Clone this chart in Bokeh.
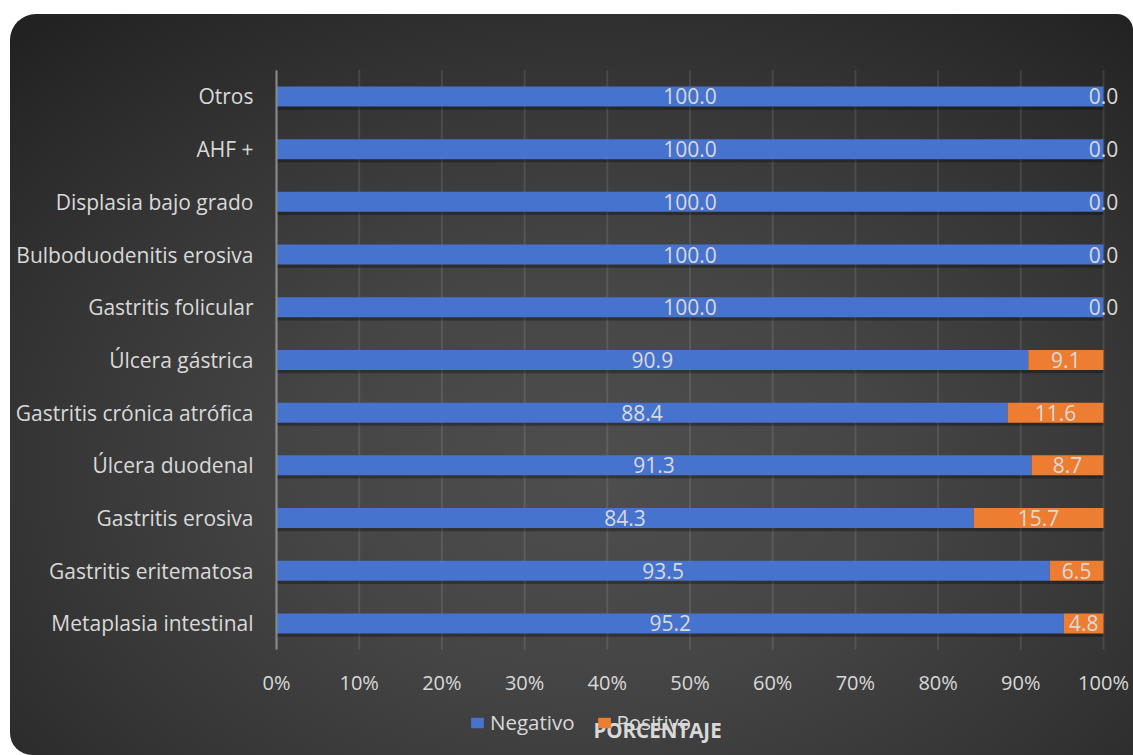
from bokeh.plotting import figure
from bokeh.models import (ColumnDataSource, Range1d, FixedTicker,
                          PrintfTickFormatter, Legend, LegendItem, Label)
from bokeh.core.properties import value
from bokeh.embed import file_html
from bokeh.resources import INLINE

# ---- data (bottom to top) ----
categories = ["Metaplasia intestinal", "Gastritis eritematosa", "Gastritis erosiva",
              "Úlcera duodenal", "Gastritis crónica atrófica", "Úlcera gástrica",
              "Gastritis folicular", "Bulboduodenitis erosiva", "Displasia bajo grado",
              "AHF +", "Otros"]
negativo = [95.2, 93.5, 84.3, 91.3, 88.4, 90.9, 100.0, 100.0, 100.0, 100.0, 100.0]
positivo = [4.8, 6.5, 15.7, 8.7, 11.6, 9.1, 0.0, 0.0, 0.0, 0.0, 0.0]
x_ticks = [0, 10, 20, 30, 40, 50, 60, 70, 80, 90, 100]
series_names = ["Negativo", "Positivo"]
axis_title = "PORCENTAJE"

FONT = "Open Sans"
TXT = "#d9d9d9"
BLUE = "#4673CD"
ORANGE = "#ED7D31"

# layout (pixels) -- the frame covers the whole figure so nothing is clipped
FIG_W, FIG_H = 1123, 741
X0_PX = 266                       # where 0% sits, from the figure's left edge
PX_PER_PCT = 8.27
ROW_PX = 52.7                     # pixels per category row
ROWS_TOP_PX = 55.6                # top of the category rows, from the figure top
n = len(categories)
X_START = -X0_PX / PX_PER_PCT
X_END = (FIG_W - X0_PX) / PX_PER_PCT
Y_TOP = n - 0.5 + ROWS_TOP_PX / ROW_PX
Y_BOT = Y_TOP - FIG_H / ROW_PX

pos_idx = list(range(n))
totals = [a + b for a, b in zip(negativo, positivo)]
src = ColumnDataSource(dict(
    y=pos_idx,
    neg=negativo,
    pos=positivo,
    tot=totals,
    neg_mid=[a / 2 for a in negativo],
    pos_mid=[a + b / 2 for a, b in zip(negativo, positivo)],
    neg_lbl=["%.1f" % v for v in negativo],
    pos_lbl=["%.1f" % v for v in positivo],
))

p = figure(width=FIG_W, height=FIG_H, output_backend="svg", toolbar_location=None,
           y_range=Range1d(Y_BOT, Y_TOP), x_range=Range1d(X_START, X_END),
           min_border_left=0, min_border_right=0, min_border_top=0,
           min_border_bottom=0)
p.border_fill_color = None
p.background_fill_color = None
p.outline_line_color = None
p.styles = {
    "position": "absolute", "left": "10px", "top": "14px",
    "background": "radial-gradient(ellipse 75% 80% at 52% 62%, #4e4e4e 0%, #454545 35%, #363636 65%, #272727 92%, #222222 100%)",
    "border-radius": "26px 16px 0px 22px",
}

# vertical gridlines at the x ticks, spanning the category rows only
p.segment(x0=x_ticks, x1=x_ticks, y0=[-0.5] * len(x_ticks), y1=[n - 0.5] * len(x_ticks),
          line_color="white", line_alpha=0.1, line_width=2)

H = 0.38
# shadows
p.hbar(y=[v - 0.06 for v in pos_idx], left=0, right=totals, height=H,
       fill_color="black", fill_alpha=0.3, line_color=None)
r_neg = p.hbar(y="y", left=0, right="neg", height=H, source=src,
               fill_color=BLUE, line_color=None)
r_pos = p.hbar(y="y", left="neg", right="tot", height=H, source=src,
               fill_color=ORANGE, line_color=None)

p.text(x="neg_mid", y="y", text="neg_lbl", source=src, text_align="center",
       text_baseline="middle", text_color=TXT, text_font=value(FONT),
       text_font_size="21px")
p.text(x="pos_mid", y="y", text="pos_lbl", source=src, text_align="center",
       text_baseline="middle", text_color=TXT, text_font=value(FONT),
       text_font_size="21px")

# x axis: drawn at the bottom of the category rows
p.xaxis.fixed_location = -0.5
p.xaxis.ticker = FixedTicker(ticks=x_ticks)
p.xaxis.formatter = PrintfTickFormatter(format="%d%%")
p.xaxis.axis_line_color = None
p.xaxis.major_tick_line_color = None
p.xaxis.minor_tick_line_color = None
p.xaxis.major_label_standoff = 13
p.xaxis.major_label_text_color = TXT
p.xaxis.major_label_text_font = FONT
p.xaxis.major_label_text_font_size = "20px"

# y axis: category names, drawn at 0%
p.yaxis.fixed_location = 0
p.yaxis.ticker = FixedTicker(ticks=pos_idx)
p.yaxis.major_label_overrides = {i: c for i, c in enumerate(categories)}
p.yaxis.bounds = (-0.5, n - 0.5)
p.yaxis.axis_line_color = "#8a8a8a"
p.yaxis.axis_line_width = 2
p.yaxis.major_tick_line_color = None
p.yaxis.minor_tick_line_color = None
p.yaxis.major_label_standoff = 17
p.yaxis.major_label_text_color = TXT
p.yaxis.major_label_text_font = FONT
p.yaxis.major_label_text_font_size = "21px"

p.xgrid.grid_line_color = None
p.ygrid.grid_line_color = None

legend = Legend(items=[LegendItem(label=series_names[0], renderers=[r_neg]),
                       LegendItem(label=series_names[1], renderers=[r_pos])],
                orientation="horizontal", location=(459, 19),
                glyph_width=16, glyph_height=13, label_standoff=5, spacing=21,
                padding=0, margin=0, background_fill_alpha=0, border_line_alpha=0,
                label_text_color=TXT, label_text_font=FONT,
                label_text_font_size="20.5px")
p.add_layout(legend, "center")

title = Label(x=647, y=26, x_units="screen", y_units="screen", text=axis_title,
              text_align="center", text_baseline="middle", text_color=TXT,
              text_font=FONT, text_font_style="bold", text_font_size="20.5px")
p.add_layout(title)

open("out.html", "w").write(file_html(p, INLINE))
